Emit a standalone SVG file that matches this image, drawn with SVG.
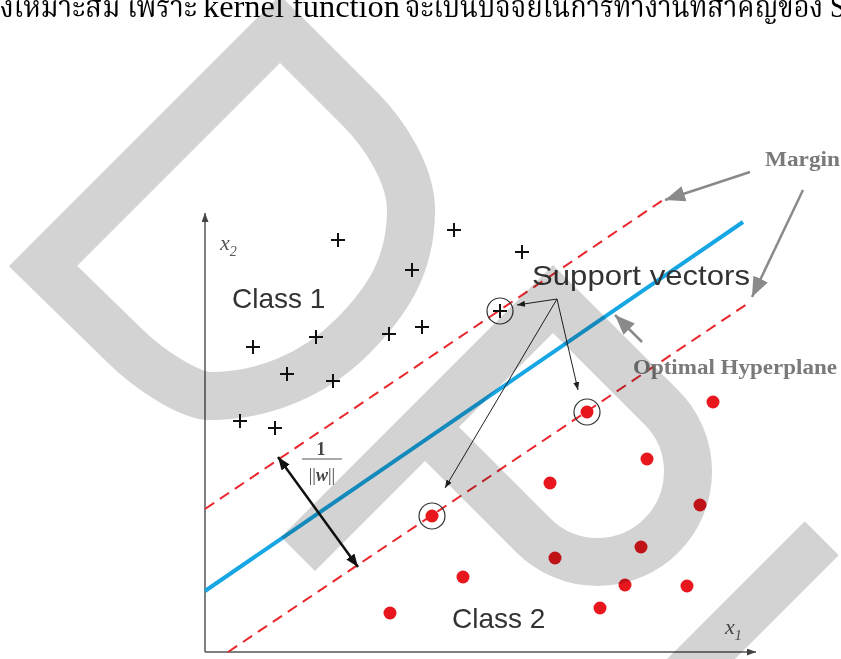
<svg xmlns="http://www.w3.org/2000/svg" width="841" height="659" viewBox="0 0 841 659">
<style>
.thai{font-family:"Liberation Serif","Noto Serif Thai","Noto Sans Thai","DejaVu Serif",serif;font-size:31px;fill:#000}
.cls{font-family:"Liberation Sans",Arial,sans-serif;font-size:28px;fill:#333}
.ax{font-family:"Liberation Serif",serif;font-style:italic;fill:#555}
.lbl{font-family:"Liberation Serif",serif;font-weight:bold;fill:#7a7a7a}
.plus{stroke:#111;stroke-width:2;fill:none}
.dot{fill:#e8161d}
.ring{fill:none;stroke:#333;stroke-width:1.2}
.dash{stroke:#e8262b;stroke-width:2;stroke-dasharray:11 7;fill:none}
.garrow{stroke:#8a8a8a;stroke-width:2.5;fill:none}
.sv{stroke:#222;stroke-width:1;fill:none}
.wm{fill:none;stroke:#d3d3d3;stroke-width:48;stroke-linejoin:miter;stroke-miterlimit:10;mix-blend-mode:multiply}
</style>
<defs>
<marker id="gh" markerUnits="userSpaceOnUse" markerWidth="22" markerHeight="18" refX="20" refY="8" orient="auto"><path d="M0,0 L20,8 L0,16 Z" fill="#8a8a8a"/></marker>
<marker id="sh" markerUnits="userSpaceOnUse" markerWidth="9" markerHeight="7" refX="8" refY="3" orient="auto"><path d="M0,0 L8,3 L0,6 Z" fill="#222"/></marker>
<marker id="bh" markerUnits="userSpaceOnUse" markerWidth="14" markerHeight="12" refX="13" refY="5" orient="auto-start-reverse"><path d="M0,0 L13,5 L0,10 Z" fill="#111"/></marker>
<marker id="axh" markerUnits="userSpaceOnUse" markerWidth="10" markerHeight="8" refX="9" refY="3.5" orient="auto"><path d="M0,0 L9,3.5 L0,7 Z" fill="#444"/></marker>
</defs>

<g id="header">
<text class="thai" x="0" y="17" textLength="197" lengthAdjust="spacingAndGlyphs">งเหมาะสม เพราะ</text>
<text class="thai" x="203" y="17" textLength="197" lengthAdjust="spacingAndGlyphs">kernel function</text>
<text class="thai" x="405" y="17" textLength="440" lengthAdjust="spacingAndGlyphs">จะเป็นปัจจัยในการทำงานที่สำคัญของ S</text>
</g>

<g id="axes">
<line x1="205" y1="652" x2="205" y2="213" stroke="#555" stroke-width="1.5" marker-end="url(#axh)"/>
<line x1="205" y1="652" x2="756" y2="652" stroke="#555" stroke-width="1.5" marker-end="url(#axh)"/>
<text class="ax" x="220" y="250" font-size="22">x<tspan font-size="14" dy="6">2</tspan></text>
<text class="ax" x="725" y="634" font-size="22">x<tspan font-size="14" dy="6">1</tspan></text>
</g>

<g id="connectors">
<line class="dash" x1="205" y1="509" x2="663" y2="200"/>
<line class="dash" x1="228" y1="652" x2="750" y2="302"/>
<line x1="205" y1="591" x2="743" y2="222" stroke="#16a6e3" stroke-width="4"/>
<line class="garrow" x1="750" y1="172" x2="665" y2="200" marker-end="url(#gh)"/>
<line class="garrow" x1="803" y1="190" x2="752" y2="297" marker-end="url(#gh)"/>
<line class="garrow" x1="642" y1="342" x2="615" y2="315" marker-end="url(#gh)"/>
<line class="sv" x1="557" y1="299" x2="517" y2="305" marker-end="url(#sh)"/>
<line class="sv" x1="557" y1="299" x2="578" y2="390" marker-end="url(#sh)"/>
<line class="sv" x1="557" y1="299" x2="445" y2="488" marker-end="url(#sh)"/>
<line x1="278" y1="457" x2="358" y2="567" stroke="#111" stroke-width="2.5" marker-start="url(#bh)" marker-end="url(#bh)"/>
</g>

<g id="class1">
<path class="plus" d="M331,240h14M338,233v14 M447,230h14M454,223v14 M515,252h14M522,245v14 M405,270h14M412,263v14 M246,347h14M253,340v14 M309,337h14M316,330v14 M382,334h14M389,327v14 M415,327h14M422,320v14 M280,374h14M287,367v14 M326,381h14M333,374v14 M233,421h14M240,414v14 M268,428h14M275,421v14 M493,311h14M500,304v14"/>
<circle class="ring" cx="500" cy="311" r="13"/>
<text class="cls" x="232" y="308">Class 1</text>
</g>

<g id="class2">
<circle class="dot" cx="713" cy="402" r="6.5"/>
<circle class="dot" cx="587" cy="412" r="6.5"/>
<circle class="dot" cx="647" cy="459" r="6.5"/>
<circle class="dot" cx="550" cy="483" r="6.5"/>
<circle class="dot" cx="700" cy="505" r="6.5"/>
<circle class="dot" cx="432" cy="516" r="6.5"/>
<circle class="dot" cx="641" cy="547" r="6.5"/>
<circle class="dot" cx="555" cy="558" r="6.5"/>
<circle class="dot" cx="463" cy="577" r="6.5"/>
<circle class="dot" cx="625" cy="585" r="6.5"/>
<circle class="dot" cx="687" cy="586" r="6.5"/>
<circle class="dot" cx="600" cy="608" r="6.5"/>
<circle class="dot" cx="390" cy="613" r="6.5"/>
<circle class="ring" cx="587" cy="412" r="13"/>
<circle class="ring" cx="432" cy="516" r="13"/>
<text class="cls" x="452" y="628">Class 2</text>
</g>

<g id="labels">
<text class="cls" x="532" y="285" textLength="218" lengthAdjust="spacingAndGlyphs">Support vectors</text>
<text class="lbl" x="765" y="166" font-size="22" textLength="75" lengthAdjust="spacingAndGlyphs">Margin</text>
<text class="lbl" x="633" y="374" font-size="20" textLength="204" lengthAdjust="spacingAndGlyphs">Optimal Hyperplane</text>
<text x="321" y="455" text-anchor="middle" font-family="Liberation Serif,serif" font-weight="bold" font-size="18" fill="#444">1</text>
<line x1="302" y1="459" x2="342" y2="459" stroke="#555" stroke-width="1"/>
<text x="322" y="481" text-anchor="middle" font-family="Liberation Serif,serif" font-size="18" fill="#444">||<tspan font-style="italic" font-weight="bold">w</tspan>||</text>
</g>

<g id="watermark">
<path class="wm" d="M43,266 L280,29 L360,109 C385,134 411,175 411,210 C411,263 389.7,299.3 352,337 C314.3,374.7 263.3,396 210,396 C190,396 149,370 124,345 Z"/>
<path class="wm" d="M298,554 L553,299 L661.5,407.5 A90.5,90.5 0 0 1 533.5,535.5 L425,427"/>
<path class="wm" d="M821.75,538.25 L580,780"/>
</g>
</svg>
